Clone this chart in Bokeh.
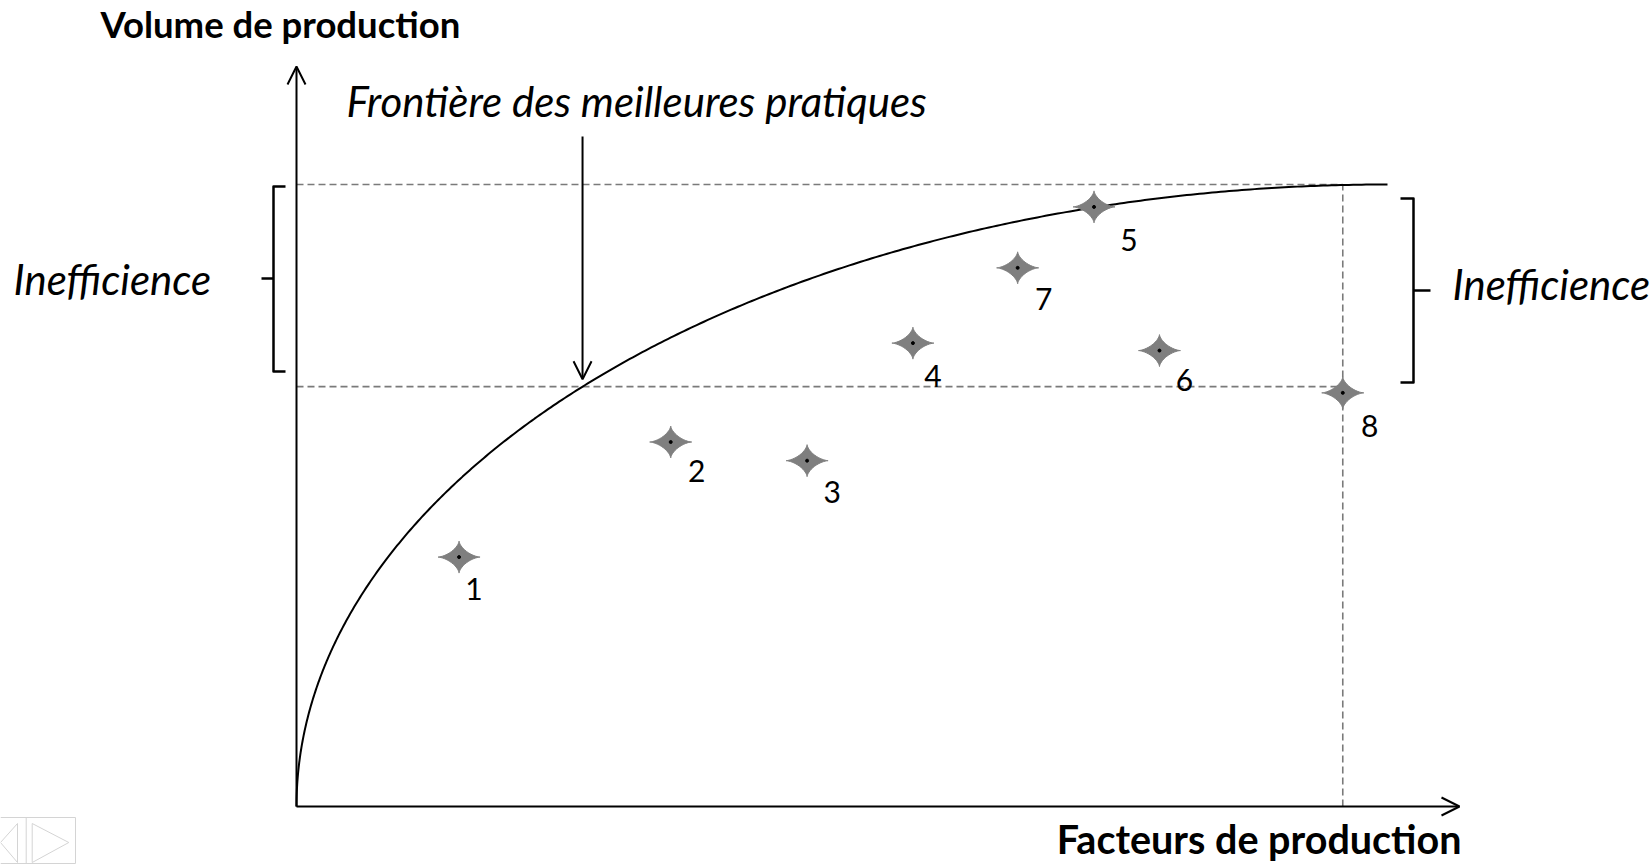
import numpy as np
from bokeh.plotting import figure
from bokeh.models import Range1d, ColumnDataSource, Arrow, OpenHead
from bokeh.core.properties import value
from bokeh.embed import file_html
from bokeh.resources import INLINE

# ---------------- data ----------------
firm_ids = ["1", "2", "3", "4", "5", "6", "7", "8"]
factor_input = [1.49, 3.43, 4.68, 5.65, 7.31, 7.91, 6.61, 9.59]
output_volume = [4.01, 5.86, 5.56, 7.45, 9.64, 7.33, 8.66, 6.65]
frontier_max_input = 10.0
frontier_max_output = 10.0
reference_output = 6.75          # lower dashed level (firm 8 / frontier)
reference_input = 9.59           # firm 8 input level

y_axis_title = "Volume de production"
x_axis_title = "Facteurs de production"
frontier_title = "Frontière des meilleures pratiques"
ineff_label = "Inefficience"

# ---------------- layout (page pixels -> data units) ----------------
W, H = 1652, 864
PXX, PXY = 109.1, 62.2            # pixels per data unit
X0 = -296 / PXX
X1 = X0 + W / PXX
Y1 = 806 / PXY
Y0 = Y1 - H / PXY
BASE_SHIFT = 0.37                 # baseline correction, in em


def X(px):
    return X0 + px / PXX


def Y(py):
    return Y1 - py / PXY


def YT(py, size):
    # baseline position for a text of given font size
    return Y(py - BASE_SHIFT * size)


p = figure(width=W, height=H, output_backend="svg", toolbar_location=None,
           x_range=Range1d(X0, X1), y_range=Range1d(Y0, Y1),
           min_border=0, min_border_left=0, min_border_right=0,
           min_border_top=0, min_border_bottom=0)
p.axis.visible = False
p.grid.visible = False
p.outline_line_color = None
p.background_fill_color = "white"
p.border_fill_color = "white"

FONT = value("Lato")

# dashed reference lines
dash_col = "#7a7a7a"
p.line([0, reference_input], [frontier_max_output, frontier_max_output],
       line_color=dash_col, line_width=1.6, line_dash="7 4")
p.line([0, reference_input], [reference_output, reference_output],
       line_color=dash_col, line_width=1.6, line_dash="7 4")
p.line([reference_input, reference_input], [0, frontier_max_output],
       line_color=dash_col, line_width=1.6, line_dash="7 4")

# frontier (quarter ellipse)
th = np.linspace(np.pi, np.pi / 2, 400)
fx = frontier_max_input + frontier_max_input * np.cos(th)
fy = frontier_max_output * np.sin(th)
p.line(fx, fy, line_color="black", line_width=2)

# axes with arrows
p.add_layout(Arrow(end=OpenHead(size=18, line_width=2, line_color="black"),
                   x_start=0, y_start=0, x_end=0, y_end=Y(66),
                   line_width=2, line_color="black"))
p.add_layout(Arrow(end=OpenHead(size=18, line_width=2, line_color="black"),
                   x_start=0, y_start=0, x_end=X(1459), y_end=0,
                   line_width=2, line_color="black"))

# arrow from frontier title to the curve
arrow_x = frontier_max_input * (1 - np.sqrt(1 - (reference_output / frontier_max_output) ** 2))
p.add_layout(Arrow(end=OpenHead(size=18, line_width=2, line_color="black"),
                   x_start=arrow_x, y_start=Y(136), x_end=arrow_x,
                   y_end=reference_output + 0.12,
                   line_width=2, line_color="black"))

# brackets
p.multi_line(
    xs=[[X(285), X(273), X(273), X(285)], [X(273), X(261)],
        [X(1400), X(1413), X(1413), X(1400)], [X(1413), X(1430)]],
    ys=[[Y(186), Y(186), Y(371), Y(371)], [Y(278), Y(278)],
        [Y(198), Y(198), Y(382), Y(382)], [Y(290), Y(290)]],
    line_color="black", line_width=2.5, line_join="round")

# four-pointed star markers
t = np.linspace(0, 2 * np.pi, 81)
ex = np.sign(np.cos(t)) * np.abs(np.cos(t)) ** 3.0
ey = np.sign(np.sin(t)) * np.abs(np.sin(t)) ** 3.0
star_xs = [list(xv + ex * 21 / PXX) for xv in factor_input]
star_ys = [list(yv + ey * 16 / PXY) for yv in output_volume]
p.patches(star_xs, star_ys, fill_color="#7f7f7f", line_color="#7f7f7f", line_width=1)
p.scatter(factor_input, output_volume, size=3, color="black")

# number labels (offsets in screen pixels, baseline below the star centre)
LABEL_SIZE = 30
label_dx = [15, 26, 25, 20, 35, 25, 26, 27]
label_dy = [43, 40, 42, 44, 44, 41, 42, 44]
src = ColumnDataSource(dict(
    x=[xv + d / PXX for xv, d in zip(factor_input, label_dx)],
    y=[yv - (d - BASE_SHIFT * LABEL_SIZE) / PXY for yv, d in zip(output_volume, label_dy)],
    t=firm_ids))
p.text(x="x", y="y", text="t", source=src, text_font=FONT,
       text_font_size=f"{LABEL_SIZE}px",
       text_align="center", text_baseline="alphabetic", text_color="black")

# titles and annotations
p.text(x=[X(100)], y=[YT(37, 36)], text=[y_axis_title], text_font=FONT,
       text_font_size="36.5px", text_font_style="bold", text_align="left",
       text_baseline="alphabetic", text_color="black")
p.text(x=[X(1461)], y=[YT(853, 39.5)], text=[x_axis_title], text_font=FONT,
       text_font_size="39.5px", text_font_style="bold", text_align="right",
       text_baseline="alphabetic", text_color="black")
p.text(x=[X(346)], y=[YT(116, 42)], text=[frontier_title], text_font=FONT,
       text_font_size="42px", text_font_style="italic", text_align="left",
       text_baseline="alphabetic", text_color="black")
p.text(x=[X(13), X(1452)], y=[YT(294, 42), YT(299, 42)],
       text=[ineff_label, ineff_label],
       text_font=FONT, text_font_size="42px", text_font_style="italic",
       text_align="left", text_baseline="alphabetic", text_color="black")

# faint slide navigation icon (bottom left)
nav = "#d4d4d4"
p.multi_line(
    xs=[[X(0), X(75), X(75), X(0)], [X(25.7), X(25.7)],
        [X(17), X(0), X(17), X(17)], [X(31.7), X(68.3), X(31.7), X(31.7)]],
    ys=[[Y(863), Y(863), Y(817), Y(817)], [Y(817), Y(863)],
        [Y(823), Y(842), Y(862), Y(823)], [Y(823), Y(842), Y(862), Y(823)]],
    line_color=nav, line_width=1)

open("out.html", "w").write(file_html(p, INLINE))
